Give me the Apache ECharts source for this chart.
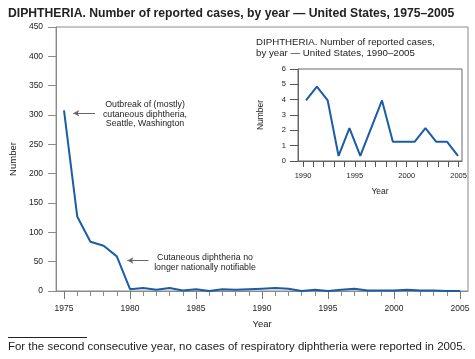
<!DOCTYPE html>
<html><head><meta charset="utf-8">
<script src="https://cdn.jsdelivr.net/npm/echarts@6/dist/echarts.min.js"></script>
<style>html,body{margin:0;padding:0;background:#fff}#c{width:475px;height:359px}</style>
</head><body><div id="c"></div>
<script>
// ---- data ----
const years = [1975,1976,1977,1978,1979,1980,1981,1982,1983,1984,1985,1986,1987,1988,1989,1990,1991,1992,1993,1994,1995,1996,1997,1998,1999,2000,2001,2002,2003,2004,2005];
const cases = [308,127,84,77,59,3,5,2,5,1,3,0,3,2,3,4,5,4,0,2,0,2,4,1,1,1,2,1,1,0,0];
const mainMinorTicks = years;
const mainMajorTicks = [1975,1980,1985,1990,1995,2000,2005];
const insetCats = ['1990','1991','1992','1993','1994','1995','1996','1997','1998','1999','2000','2001','2002','2003','2004'];
const insetCases = [3.95,4.85,3.95,0.33,2.15,0.33,2.15,3.95,1.25,1.25,1.25,2.15,1.25,1.25,0.33];
const insetMinorTicks = [1990,1991,1992,1993,1994,1995,1996,1997,1998,1999,2000,2001,2002,2003,2004,2005];
const insetMajorTicks = [1990,1995,2000,2005];

const FONT = '"Liberation Sans", Arial, Helvetica, sans-serif';
const AX = '#8a8a8a';
const LINE = '#1a5da6';
const yr = v => String(Math.round(v));
const chart = echarts.init(document.getElementById('c'), null, {renderer:'canvas'});
chart.setOption({
  animation:false,
  textStyle:{fontFamily:FONT},
  title:{text:'DIPHTHERIA. Number of reported cases, by year \u2014 United States, 1975\u20132005',
    left:3, top:3, textStyle:{fontFamily:FONT,fontSize:12.2,fontWeight:'bold',color:'#222'}},
  grid:[
    {left:53, right:7, top:27, bottom:68, show:true, borderColor:AX, borderWidth:1, containLabel:false},
    {left:298, right:13, top:69, bottom:198, show:true, borderColor:'#666', borderWidth:1, backgroundColor:'#fff', containLabel:false},
    {left:306, right:17, top:69, bottom:198, containLabel:false}
  ],
  xAxis:[
    {gridIndex:0, type:'value', min:1974.4, max:2005.6, position:'bottom',
      axisLine:{show:true,lineStyle:{color:AX}}, splitLine:{show:false},
      axisTick:{show:true, customValues:mainMinorTicks, length:5, lineStyle:{color:AX}},
      axisLabel:{show:true, customValues:mainMinorTicks, formatter:()=>'', fontSize:1}},
    {gridIndex:0, type:'value', min:1974.4, max:2005.6, position:'bottom',
      axisLine:{show:false}, splitLine:{show:false},
      axisTick:{show:true, customValues:mainMajorTicks, length:8, lineStyle:{color:'#777'}},
      axisLabel:{show:true, customValues:mainMajorTicks, formatter:yr, fontSize:8.5, color:'#222', margin:13, fontFamily:FONT},
      name:'Year', nameLocation:'middle', nameGap:28, nameTextStyle:{fontSize:9.5,color:'#222',fontFamily:FONT}},
    {gridIndex:1, type:'value', min:1989.52, max:2005.33, position:'bottom',
      axisLine:{show:true,lineStyle:{color:'#666'}}, splitLine:{show:false},
      axisTick:{show:true, customValues:insetMinorTicks, length:6, lineStyle:{color:'#555'}},
      axisLabel:{show:true, customValues:insetMinorTicks, formatter:()=>'', fontSize:1}},
    {gridIndex:2, type:'category', data:insetCats, boundaryGap:false, show:false},
    {gridIndex:1, type:'value', min:1989.52, max:2005.33, position:'bottom',
      axisLine:{show:false}, splitLine:{show:false},
      axisTick:{show:false},
      axisLabel:{show:true, customValues:insetMajorTicks, formatter:yr, fontSize:7.5, color:'#222', margin:11, fontFamily:FONT},
      name:'Year', nameLocation:'middle', nameGap:26, nameTextStyle:{fontSize:8.5,color:'#222',fontFamily:FONT}}
  ],
  yAxis:[
    {gridIndex:0, type:'value', min:0, max:450, interval:50,
      axisLine:{show:true,lineStyle:{color:AX}}, splitLine:{show:false},
      axisTick:{show:true,length:8,lineStyle:{color:AX}},
      axisLabel:{fontSize:8.5,color:'#222',margin:13,fontFamily:FONT},
      name:'Number', nameLocation:'middle', nameGap:36, nameRotate:90,
      nameTextStyle:{fontSize:9.5,color:'#222',fontFamily:FONT}},
    {gridIndex:1, type:'value', min:0, max:6, interval:1,
      axisLine:{show:true,lineStyle:{color:'#666'}}, splitLine:{show:false},
      axisTick:{show:true,length:8,lineStyle:{color:'#555'}},
      axisLabel:{fontSize:7.5,color:'#222',margin:12,fontFamily:FONT},
      name:'Number', nameLocation:'middle', nameGap:33, nameRotate:90,
      nameTextStyle:{fontSize:8.5,color:'#222',fontFamily:FONT}},
    {gridIndex:2, type:'value', min:0, max:6, show:false}
  ],
  series:[
    {type:'line', xAxisIndex:1, yAxisIndex:0, data:years.map((y,i)=>[y,cases[i]]),
      symbol:'none', lineStyle:{color:LINE,width:2}, z:5,
      markLine:{silent:true, symbolSize:[5,6], label:{show:false},
        lineStyle:{color:'#666',width:1,type:'solid'},
        data:[
          [{coord:[1977.35,303],symbol:'none'},{coord:[1975.7,303],symbol:'arrow'}],
          [{coord:[1981.4,52],symbol:'none'},{coord:[1979.8,52],symbol:'arrow'}]
        ]}},
    {type:'line', xAxisIndex:3, yAxisIndex:2, data:insetCases,
      symbol:'none', lineStyle:{color:LINE,width:2}, z:5}
  ],
  graphic:[
    {type:'text', x:145, y:100, style:{text:'Outbreak of (mostly)\ncutaneous diphtheria,\nSeattle, Washington',
      align:'center', fontSize:8.8, lineHeight:9.6, fill:'#222', fontFamily:FONT}},
    {type:'text', x:205, y:253, style:{text:'Cutaneous diphtheria no\nlonger nationally notifiable',
      align:'center', fontSize:8.8, lineHeight:9.6, fill:'#222', fontFamily:FONT}},
    {type:'text', x:256, y:37, style:{text:'DIPHTHERIA. Number of reported cases,\nby year \u2014 United States, 1990\u20132005',
      align:'left', fontSize:9.7, lineHeight:11, fill:'#222', fontFamily:FONT}},
    {type:'line', shape:{x1:8,y1:337.5,x2:87,y2:337.5}, style:{stroke:'#222',lineWidth:1}},
    {type:'text', x:8, y:341, style:{text:'For the second consecutive year, no cases of respiratory diphtheria were reported in 2005.',
      fontSize:11.45, fill:'#222', fontFamily:FONT}}
  ]
});
</script></body></html>
